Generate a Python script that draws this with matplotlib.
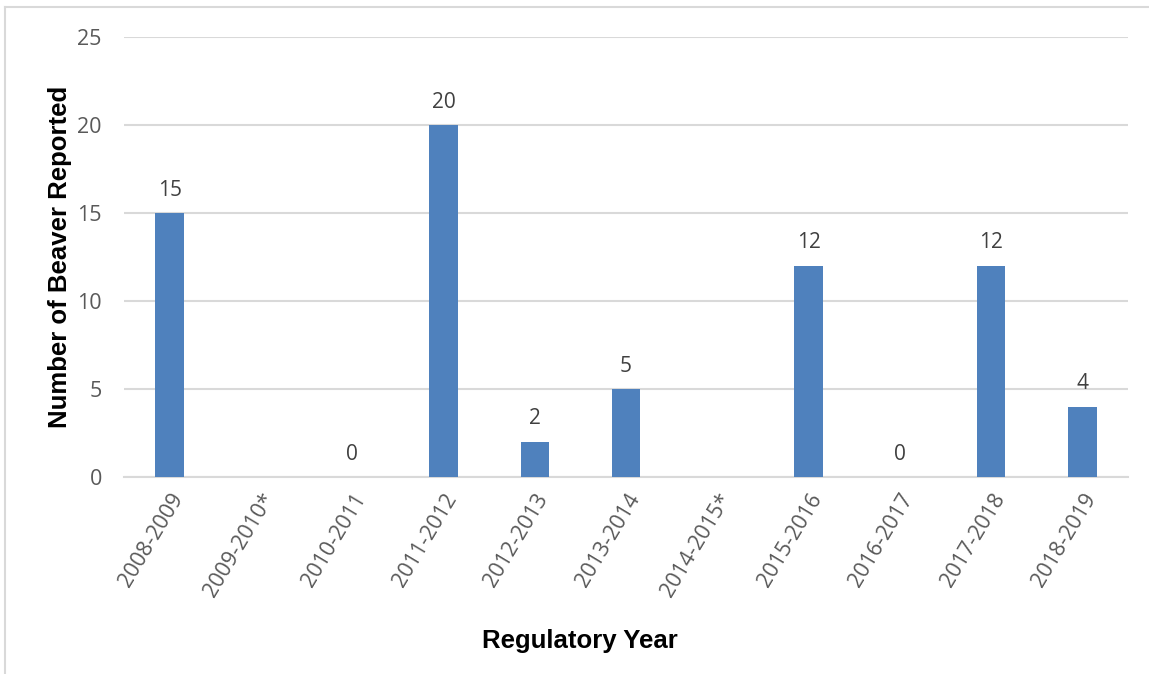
import numpy as np
import matplotlib.pyplot as plt
from matplotlib.lines import Line2D

# beaver reported per regulatory year (None = no data that year)
years = ["2008-2009", "2009-2010*", "2010-2011", "2011-2012", "2012-2013",
         "2013-2014", "2014-2015*", "2015-2016", "2016-2017", "2017-2018",
         "2018-2019"]
beaver = [15, None, 0, 20, 2, 5, None, 12, 0, 12, 4]

fig = plt.figure(figsize=(11.49, 6.74), dpi=100)
ax = fig.add_axes([124 / 1149, 1 - 477 / 674, 1004 / 1149, 440 / 674])

x = np.arange(len(years))
heights = [v if v is not None else 0 for v in beaver]
ax.bar(x, heights, width=0.31, color="#4f81bd", zorder=3)

for xi, v in zip(x, beaver):
    if v is None:
        continue
    ax.text(xi, v + 0.7, str(v), ha="center", va="bottom",
            fontsize=15, color="#404040", family="Open Sans")

ax.set_xlim(-0.5, len(years) - 0.5)
ax.set_ylim(0, 25)
ax.set_yticks([0, 5, 10, 15, 20, 25])
ax.yaxis.grid(True, color="#d9d9d9", linewidth=1.5, zorder=0)
for s in ["top", "right", "left"]:
    ax.spines[s].set_visible(False)
ax.spines["bottom"].set_color("#d9d9d9")
ax.spines["bottom"].set_linewidth(1.5)
ax.tick_params(axis="both", length=0, labelsize=15.5, labelcolor="#595959")
ax.tick_params(axis="y", pad=16)
ax.tick_params(axis="x", pad=9)
ax.set_xticks(x)
ax.set_xticklabels(years, rotation=59, ha="right", rotation_mode="anchor",
                   family="Open Sans")
for lab in ax.get_yticklabels():
    lab.set_family("Open Sans")

ax.set_ylabel("Number of Beaver Reported", fontsize=18.5, fontweight="bold",
              family="Liberation Sans")
ax.set_xlabel("Regulatory Year", fontsize=18.5, fontweight="bold",
              family="Liberation Sans")
ax.yaxis.set_label_coords(-0.052, 0.5)
ax.xaxis.set_label_coords(0.454, -0.345)

# thin frame line along the top and left edges
fig.add_artist(Line2D([5 / 1149, 1], [1 - 7 / 674, 1 - 7 / 674],
                      color="#d9d9d9", linewidth=1.5))
fig.add_artist(Line2D([5 / 1149, 5 / 1149], [0, 1 - 7 / 674],
                      color="#d9d9d9", linewidth=1.5))

fig.savefig("out.png", dpi=100)
